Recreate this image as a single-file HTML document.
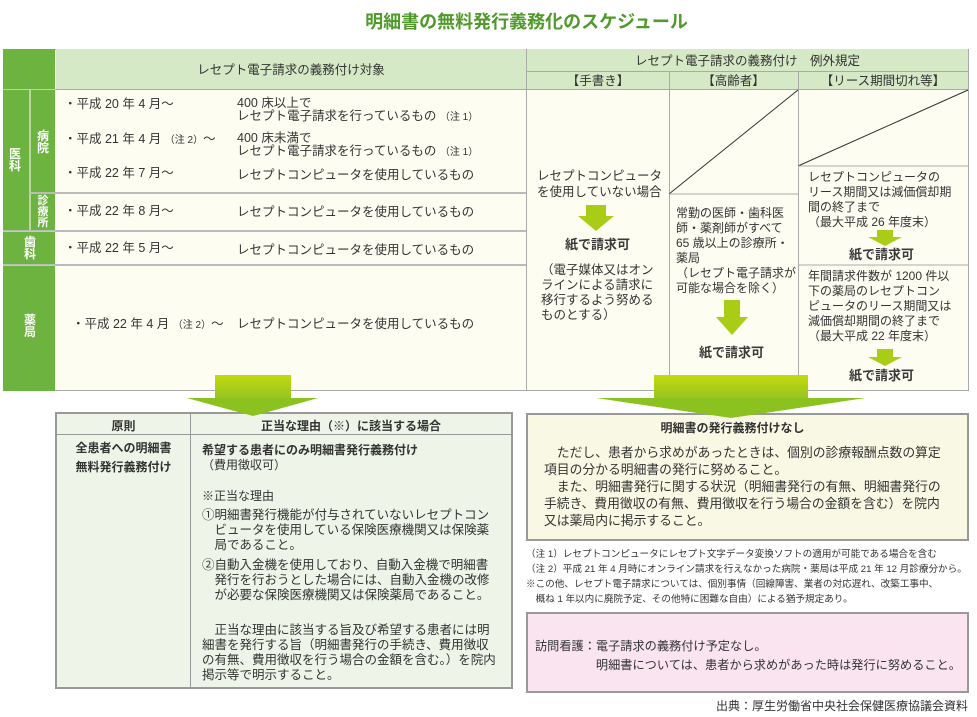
<!DOCTYPE html>
<html><head><meta charset="utf-8"><style>
*{margin:0;padding:0;box-sizing:border-box}
body{width:977px;height:717px;background:#fff;position:relative;font-family:"Liberation Sans","Noto Sans CJK JP",sans-serif;color:#333;font-size:12px;overflow:hidden}
.a{position:absolute}
.g{background:#6db33f;color:#fff;font-weight:bold}
.lg{background:#d6e9c6}
.c{background:#fdfdf2}
.t{position:absolute;white-space:nowrap;line-height:14px}
.b{font-weight:bold}
.v{position:absolute;font-weight:bold;color:#fff;font-size:12px;line-height:12px;width:14px;text-align:center}
.tt .t{font-size:12.5px}
</style></head><body>
<div class="a b" style="left:0;width:977px;top:8px;text-align:center;font-size:18px;color:#4f9a2a;padding-left:76px">明細書の無料発行義務化のスケジュール</div>

<div class="tt">
<div class="a c" style="left:3px;top:49px;width:966px;height:342px;border:1px solid #aaa"></div>
<div class="a g" style="left:3px;top:49px;width:52px;height:342px"></div>
<div class="a lg" style="left:56px;top:49px;width:470px;height:40px"></div>
<div class="t" style="left:56px;width:470px;top:63px;text-align:center">レセプト電子請求の義務付け対象</div>
<div class="a lg" style="left:527px;top:49px;width:441px;height:40px"></div>
<div class="a" style="left:526px;top:49px;width:1px;height:342px;background:#aaa"></div>
<div class="a" style="left:527px;top:71px;width:441px;height:1px;background:#aaa"></div>
<div class="a" style="left:669px;top:71px;width:1px;height:320px;background:#aaa"></div>
<div class="a" style="left:798px;top:71px;width:1px;height:320px;background:#aaa"></div>
<div class="t" style="left:527px;width:441px;top:54px;text-align:center">レセプト電子請求の義務付け　例外規定</div>
<div class="t" style="left:527px;width:142px;top:74px;text-align:center">【手書き】</div>
<div class="t" style="left:669px;width:129px;top:74px;text-align:center">【高齢者】</div>
<div class="t" style="left:798px;width:170px;top:74px;text-align:center">【リース期間切れ等】</div>
<div class="a" style="left:3px;top:89px;width:523px;height:1px;background:#aaa"></div>
<div class="a" style="left:527px;top:89px;width:441px;height:1px;background:#aaa"></div>
<div class="a" style="left:29px;top:89px;width:2px;height:142px;background:#b8d8a0"></div>
<div class="a" style="left:30px;top:192px;width:496px;height:2px;background:#bbb"></div>
<div class="a" style="left:3px;top:230px;width:523px;height:2px;background:#bbb"></div>
<div class="a" style="left:3px;top:264px;width:523px;height:2px;background:#bbb"></div>
<div class="a" style="left:3px;top:89px;width:52px;height:1px;background:#b8d8a0"></div>
<div class="a" style="left:3px;top:231px;width:52px;height:1px;background:#b8d8a0"></div>
<div class="a" style="left:3px;top:265px;width:52px;height:1px;background:#b8d8a0"></div>
<div class="v" style="left:8px;top:148px">医<br>科</div>
<div class="v" style="left:36px;top:130px">病<br>院</div>
<div class="v" style="left:36px;top:196px;font-size:11px;line-height:11px">診<br>療<br>所</div>
<div class="v" style="left:23px;top:236px">歯<br>科</div>
<div class="v" style="left:23px;top:314px">薬<br>局</div>
<div class="t" style="left:64px;top:97px">・平成 20 年 4 月～</div>
<div class="t" style="left:237px;top:97px;line-height:13px">400 床以上で<br>レセプト電子請求を行っているもの <span style="font-size:10px">（注 1）</span></div>
<div class="t" style="left:64px;top:132px">・平成 21 年 4 月 <span style="font-size:10px">（注 2）</span>～</div>
<div class="t" style="left:237px;top:132px;line-height:13px">400 床未満で<br>レセプト電子請求を行っているもの <span style="font-size:10px">（注 1）</span></div>
<div class="t" style="left:64px;top:166px">・平成 22 年 7 月～</div>
<div class="t" style="left:237px;top:168px">レセプトコンピュータを使用しているもの</div>
<div class="t" style="left:64px;top:204px">・平成 22 年 8 月～</div>
<div class="t" style="left:237px;top:205px">レセプトコンピュータを使用しているもの</div>
<div class="t" style="left:64px;top:241px">・平成 22 年 5 月～</div>
<div class="t" style="left:237px;top:243px">レセプトコンピュータを使用しているもの</div>
<div class="t" style="left:72px;top:317px">・平成 22 年 4 月 <span style="font-size:10px">（注 2）</span>～</div>
<div class="t" style="left:237px;top:317px">レセプトコンピュータを使用しているもの</div>
</div>

<svg class="a" style="left:0;top:0" width="977" height="717">
<line x1="669" y1="194" x2="798" y2="90" stroke="#333" stroke-width="1"/>
<line x1="669" y1="194" x2="798" y2="194" stroke="#aaa"/>
<line x1="798" y1="166" x2="968" y2="90" stroke="#333" stroke-width="1"/>
<line x1="798" y1="166" x2="968" y2="166" stroke="#aaa"/>
<line x1="798" y1="265" x2="968" y2="265" stroke="#aaa"/>
<g fill="#a9cc16">
<polygon points="586,205 606,205 606,216 614,216 596,231 578,216 586,216"/>
<polygon points="724,300 740,300 740,317 748,317 732,335 716,317 724,317"/>
<polygon points="877,230 893,230 893,237 902,237 885,246 868,237 877,237"/>
<polygon points="877,349 893,349 893,357 902,357 885,366 868,357 877,357"/>
</g>
<defs><linearGradient id="gr" x1="0" y1="0" x2="0" y2="1"><stop offset="0" stop-color="#c4d910"/><stop offset="1" stop-color="#72b52d"/></linearGradient></defs>
<polygon fill="url(#gr)" points="215,375 291,375 291,398 318,398 253,416 187,398 215,398"/>
<polygon fill="url(#gr)" points="654,375 808,375 808,398 865,398 731,418 597,398 654,398"/>
</svg>
<div class="t" style="left:537px;top:168px;line-height:16px;font-size:12.5px">レセプトコンピュータ<br>を使用していない場合</div>
<div class="t b" style="left:565px;top:238px;font-size:13px;color:#3a3a3a">紙で請求可</div>
<div class="t" style="left:541px;top:263px;line-height:15px;font-size:12.5px">（電子媒体又はオン<br>ラインによる請求に<br>移行するよう努める<br>ものとする）</div>
<div class="t" style="left:676px;top:206px;line-height:15px">常勤の医師・歯科医<br>師・薬剤師がすべて<br>65 歳以上の診療所・<br>薬局<br>（レセプト電子請求が<br>可能な場合を除く）</div>
<div class="t b" style="left:699px;top:346px;font-size:13px;color:#3a3a3a">紙で請求可</div>
<div class="t" style="left:808px;top:170px;line-height:15px">レセプトコンピュータの<br>リース期間又は減価償却期<br>間の終了まで<br>（最大平成 26 年度末）</div>
<div class="t b" style="left:849px;top:248px;font-size:13px;color:#3a3a3a">紙で請求可</div>
<div class="t" style="left:808px;top:269px;line-height:15px">年間請求件数が 1200 件以<br>下の薬局のレセプトコン<br>ピュータのリース期間又は<br>減価償却期間の終了まで<br>（最大平成 22 年度末）</div>
<div class="t b" style="left:849px;top:369px;font-size:13px;color:#3a3a3a">紙で請求可</div>

<div class="a" style="left:55px;top:412px;width:458px;height:277px;border:2px solid #999;background:#eef4e8"></div>
<div class="a" style="left:57px;top:434px;width:454px;height:1px;background:#999"></div>
<div class="a" style="left:190px;top:414px;width:1px;height:273px;background:#999"></div>
<svg class="a" style="left:0;top:0" width="977" height="717"><polygon fill="#8cc21f" points="187,398 318,398 253,416"/></svg>
<div class="t b" style="left:57px;width:133px;top:419px;text-align:center">原則</div>
<div class="t b" style="left:191px;width:320px;top:419px;text-align:center">正当な理由（※）に該当する場合</div>
<div class="t b" style="left:57px;width:133px;top:439px;text-align:center;line-height:19px">全患者への明細書<br>無料発行義務付け</div>
<div class="t" style="left:202px;top:443px;line-height:15px"><b>希望する患者にのみ明細書発行義務付け</b><br>（費用徴収可）</div>
<div class="t" style="left:202px;top:489px">※正当な理由</div>
<div class="t" style="left:202px;top:508px;line-height:15px;font-size:12.5px">①明細書発行機能が付与されていないレセプトコン<br>　ビュータを使用している保険医療機関又は保険薬<br>　局であること。</div>
<div class="t" style="left:202px;top:558px;line-height:15px;font-size:12.5px">②自動入金機を使用しており、自動入金機で明細書<br>　発行を行おうとした場合には、自動入金機の改修<br>　が必要な保険医療機関又は保険薬局であること。</div>
<div class="t" style="left:202px;top:623px;line-height:15px;font-size:12.5px">　正当な理由に該当する旨及び希望する患者には明<br>細書を発行する旨（明細書発行の手続き、費用徴収<br>の有無、費用徴収を行う場合の金額を含む。）を院内<br>掲示等で明示すること。</div>

<div class="a" style="left:526px;top:413px;width:443px;height:128px;border:2px solid #999;background:#f8f8e4"></div>
<svg class="a" style="left:0;top:0" width="977" height="717"><polygon fill="#8cc21f" points="597,398 865,398 731,418"/></svg>
<div class="t b" style="left:526px;width:443px;top:421px;text-align:center;padding-right:30px">明細書の発行義務付けなし</div>
<div class="t" style="left:544px;top:444px;line-height:17px;font-size:12.8px">　ただし、患者から求めがあったときは、個別の診療報酬点数の算定<br>項目の分かる明細書の発行に努めること。<br>　また、明細書発行に関する状況（明細書発行の有無、明細書発行の<br>手続き、費用徴収の有無、費用徴収を行う場合の金額を含む）を院内<br>又は薬局内に掲示すること。</div>
<div class="t" style="left:526px;top:547px;font-size:9.6px;line-height:15px">（注 1）レセプトコンピュータにレセプト文字データ変換ソフトの適用が可能である場合を含む<br>（注 2）平成 21 年 4 月時にオンライン請求を行えなかった病院・薬局は平成 21 年 12 月診療分から。<br>※この他、レセプト電子請求については、個別事情（回線障害、業者の対応遅れ、改築工事中、<br>　概ね 1 年以内に廃院予定、その他特に困難な自由）による猶予規定あり。</div>
<div class="a" style="left:526px;top:612px;width:443px;height:81px;border:2px solid #999;background:#f9e4f0"></div>
<div class="t" style="left:535px;top:637px;line-height:19px;font-size:12.2px">訪問看護：電子請求の義務付け予定なし。<br>　　　　　明細書については、患者から求めがあった時は発行に努めること。</div>
<div class="t" style="left:700px;width:268px;top:699px;text-align:right">出典：厚生労働省中央社会保健医療協議会資料</div>
</body></html>
